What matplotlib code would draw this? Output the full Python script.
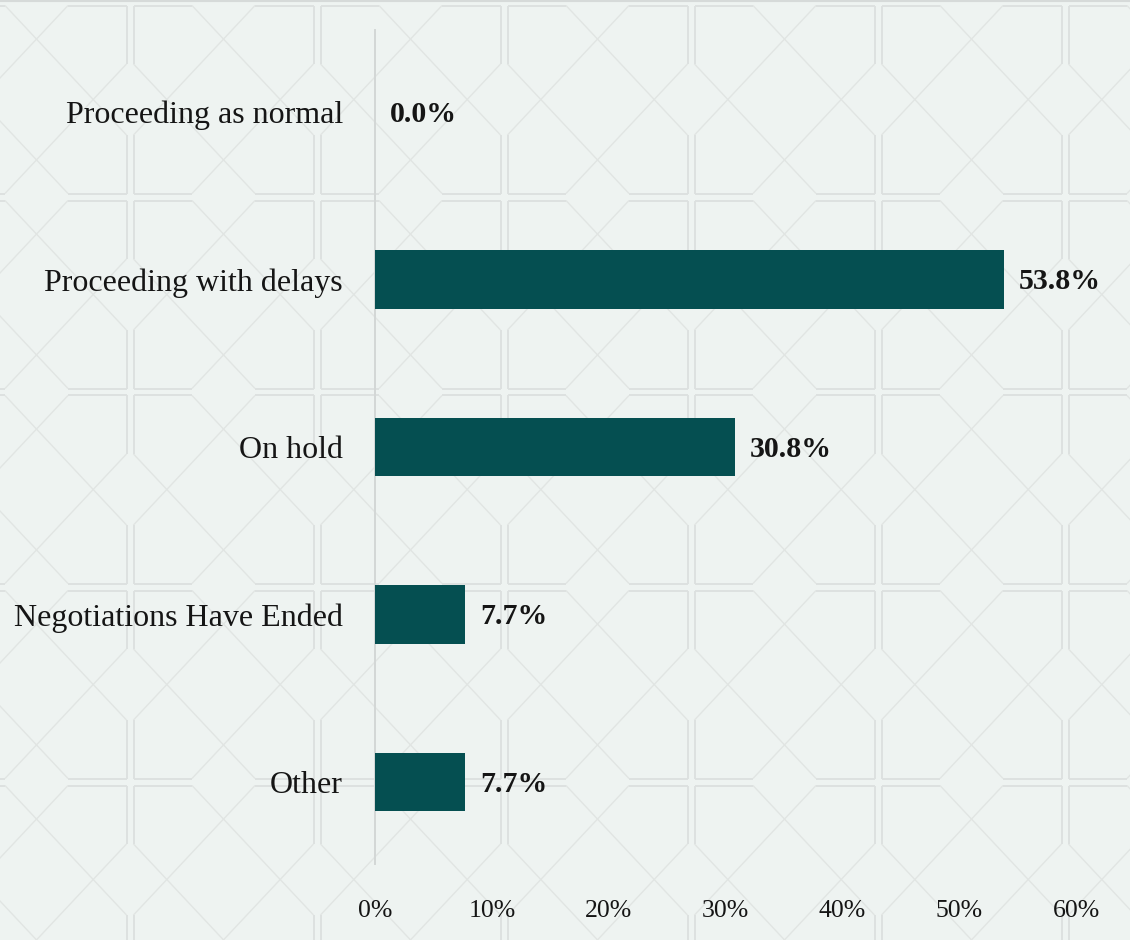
import matplotlib
matplotlib.use("Agg")
import matplotlib.pyplot as plt
from matplotlib.lines import Line2D
from matplotlib.ticker import FuncFormatter

# Survey responses: status of ongoing deals
categories = [
    "Proceeding as normal",
    "Proceeding with delays",
    "On hold",
    "Negotiations Have Ended",
    "Other",
]
shares = [0.0, 53.8, 30.8, 7.7, 7.7]
x_ticks = [0, 10, 20, 30, 40, 50, 60]

BG = "#eef3f1"
BAR = "#054f51"
INK = "#151515"
W, H = 1130, 940

plt.rcParams["font.family"] = ["Liberation Serif", "DejaVu Serif"]

fig = plt.figure(figsize=(W / 100, H / 100), dpi=100, facecolor=BG)


# --- decorative lattice behind the chart (pixel coords, origin top-left) ---
def seg(x0, y0, x1, y1, lw, color):
    fig.add_artist(Line2D([x0 / W, x1 / W], [1 - y0 / H, 1 - y1 / H],
                          transform=fig.transFigure, lw=lw, color=color,
                          zorder=-5, solid_capstyle="butt"))


px, py = 187, 195     # lattice spacing
arm, gap = 62, 3.5    # arm length of each cross, half-gap of double lines
diag_c, dbl_c = "#e1e5e3", "#dce0df"
for i in range(-1, 8):
    for j in range(-1, 6):
        X, Y = 130 + px * i, 2 + py * j
        # double-line cross, drawn as four corner pieces
        for sx in (-1, 1):
            for sy in (-1, 1):
                seg(X + sx * gap, Y + sy * arm, X + sx * gap, Y + sy * gap, 1.3, dbl_c)
                seg(X + sx * gap, Y + sy * gap, X + sx * arm, Y + sy * gap, 1.3, dbl_c)
        # diagonals joining arm tips of neighbouring crosses
        seg(X + gap, Y - arm, X + px - arm, Y - py + gap, 1.0, diag_c)
        seg(X + arm, Y - gap, X + px - gap, Y - py + arm, 1.0, diag_c)
        seg(X + gap, Y + arm, X + px - arm, Y + py - gap, 1.0, diag_c)
        seg(X + arm, Y + gap, X + px - gap, Y + py - arm, 1.0, diag_c)

seg(0, 0.5, W, 0.5, 1.5, "#d6dad9")

# --- bar chart ---
ax = fig.add_axes([375 / W, 1 - 864 / H, (1076 - 375) / W, (864 - 30) / H])
ax.set_facecolor("none")

pos = list(range(len(categories)))
ax.barh(pos, shares, height=0.35, color=BAR, zorder=3)

for p, v in zip(pos, shares):
    ax.annotate(f"{v:.1f}%", xy=(v, p), xytext=(11, -1.5), textcoords="offset points",
                ha="left", va="center", fontsize=21.5, fontweight="bold", color=INK)

ax.set_xlim(0, 60)
ax.set_ylim(len(categories) - 0.51, -0.49)
ax.set_yticks(pos)
ax.set_yticklabels(categories)
ax.set_xticks(x_ticks)
ax.xaxis.set_major_formatter(FuncFormatter(lambda v, _: f"{v:.0f}%"))

ax.tick_params(axis="y", length=0, pad=23, labelsize=23, labelcolor=INK)
ax.tick_params(axis="x", length=0, pad=26, labelsize=18.5, labelcolor=INK)

for side in ("top", "right", "bottom"):
    ax.spines[side].set_visible(False)
ax.spines["left"].set_color("#d3d7d6")
ax.spines["left"].set_linewidth(1.4)

fig.savefig("out.png", dpi=100, facecolor=BG)
